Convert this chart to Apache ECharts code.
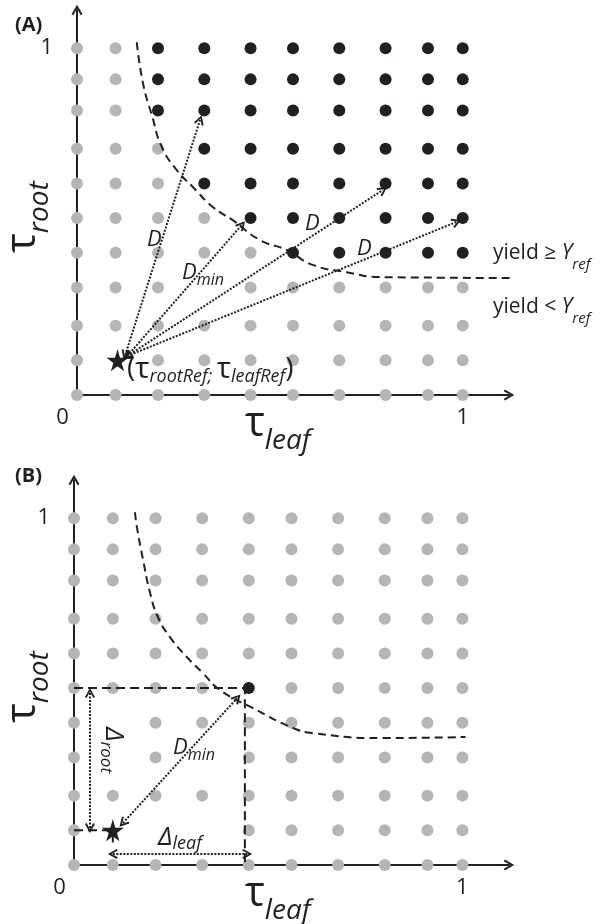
<!DOCTYPE html>
<html>
<head>
<meta charset="utf-8">
<script src="https://cdn.jsdelivr.net/npm/echarts@6/dist/echarts.min.js"></script>
<style>
  html, body { margin: 0; padding: 0; background: #fff; }
  #main { width: 606px; height: 924px; }
</style>
</head>
<body>
<div id="main"></div>
<script>
// positions of the grid of (tau_leaf, tau_root) combinations
var colX = [0, 0.10, 0.21, 0.33, 0.45, 0.56, 0.68, 0.80, 0.91, 1];
var rowY = [0, 0.10, 0.20, 0.31, 0.41, 0.51, 0.61, 0.71, 0.82, 0.91, 1];

// panel A: first black (yield >= Yref) column for every row, null = row all gray
var firstBlackA = [null, null, null, null, 5, 4, 3, 3, 2, 2, 2];
// cells [row, col] without a dot (star or a label sits there)
var hiddenA = [[1, 1], [3, 3]];
var hiddenB = [[1, 1], [1, 2], [1, 3], [3, 1], [3, 3], [4, 1]];
var blackB = [[5, 4]];

var starA = [0.105, 0.10];
var starB = [0.10, 0.10];

// yield = Yref boundary (dashed)
var curveA = [[0.155, 1.017], [0.171, 0.899], [0.194, 0.807], [0.220, 0.715], [0.259, 0.648],
  [0.301, 0.599], [0.352, 0.542], [0.404, 0.504], [0.474, 0.447], [0.544, 0.418],
  [0.611, 0.375], [0.699, 0.354], [0.785, 0.340], [1.199, 0.337]];
var curveB = [[0.157, 1.017], [0.162, 0.974], [0.178, 0.879], [0.196, 0.784], [0.216, 0.715],
  [0.247, 0.657], [0.291, 0.599], [0.332, 0.553], [0.375, 0.505], [0.461, 0.452],
  [0.564, 0.395], [0.616, 0.380], [0.789, 0.366], [1.008, 0.369]];

// dotted double arrows: [from, to]
var arrowsA = [
  [[0.125, 0.115], [0.319, 0.793]],
  [[0.13, 0.112], [0.427, 0.490]],
  [[0.13, 0.112], [0.793, 0.591]],
  [[0.13, 0.112], [0.984, 0.499]]
];
var arrowsB = [
  [[0.126, 0.121], [0.42, 0.481]],   // D_min
  [[0.041, 0.496], [0.041, 0.107]],  // delta root
  [[0.10, 0.032], [0.446, 0.032]]    // delta leaf
];
// dashed guides in panel B
var guideB = [[0, 0.51], [0.44, 0.51], [0.44, 0]];
var starGuideB = [[0, 0.10], [0.10, 0.10], [0.10, 0.06]];

var FONT = "'Open Sans', 'DejaVu Sans', sans-serif";
var INK = '#231f20';
var GRAY = '#b4b5b8';
var ARROW = 'path://M0,8.5 L5,0 L10,8.5 L8.3,9.5 L5,3.4 L1.7,9.5 Z';
var STAR = 'path://M50,0 L61,35 L98,35 L68,57 L79,91 L50,70 L21,91 L32,57 L2,35 L39,35 Z';

function isHidden(list, r, c) {
    for (var i = 0; i < list.length; i++) {
        if (list[i][0] === r && list[i][1] === c) return true;
    }
    return false;
}

function dotsA(black) {
    var out = [];
    for (var r = 0; r < rowY.length; r++) {
        for (var c = 0; c < colX.length; c++) {
            if (isHidden(hiddenA, r, c)) continue;
            var isBlack = firstBlackA[r] !== null && c >= firstBlackA[r];
            if (isBlack === black) out.push([colX[c], rowY[r]]);
        }
    }
    return out;
}

function dotsB(black) {
    var out = [];
    for (var r = 0; r < rowY.length; r++) {
        for (var c = 0; c < colX.length; c++) {
            if (isHidden(hiddenB, r, c)) continue;
            if (isHidden(blackB, r, c) === black) out.push([colX[c], rowY[r]]);
        }
    }
    return out;
}

function xAxis(gi) {
    return {
        gridIndex: gi, type: 'value', min: 0, max: 1.12,
        splitLine: { show: false }, axisTick: { show: false },
        axisLine: { onZero: false, lineStyle: { color: INK, width: 2 }, symbol: ['none', ARROW], symbolSize: [11, 11] },
        axisLabel: {
            customValues: [0, 1], margin: 12, color: INK, fontSize: 22, fontFamily: FONT,
            formatter: function (v) { return v === 0 ? '{z|0}' : '1'; },
            rich: { z: { padding: [0, 29, 0, 0], fontSize: 22, fontFamily: FONT, color: INK } }
        }
    };
}

function yAxis(gi) {
    return {
        gridIndex: gi, type: 'value', min: 0, max: 1.11,
        splitLine: { show: false }, axisTick: { show: false },
        axisLine: { onZero: false, lineStyle: { color: INK, width: 2 }, symbol: ['none', ARROW], symbolSize: [11, 11] },
        axisLabel: { customValues: [1], margin: 24, color: INK, fontSize: 22, fontFamily: FONT }
    };
}

function scatter(gi, data, color, size) {
    return { type: 'scatter', xAxisIndex: gi, yAxisIndex: gi, data: data, symbolSize: size,
        itemStyle: { color: color, opacity: 1 }, clip: false, silent: true, z: 2 };
}

function star(gi, pt) {
    return { type: 'scatter', xAxisIndex: gi, yAxisIndex: gi, data: [pt], symbol: STAR, symbolSize: 22,
        itemStyle: { color: INK, opacity: 1 }, clip: false, z: 5 };
}

function dashed(gi, data, dash, smooth) {
    return { type: 'line', xAxisIndex: gi, yAxisIndex: gi, data: data, smooth: smooth, symbol: 'none',
        lineStyle: { color: INK, width: 2, type: dash }, clip: false, z: 4 };
}

function arrows(gi, list) {
    return {
        type: 'lines', coordinateSystem: 'cartesian2d', xAxisIndex: gi, yAxisIndex: gi,
        data: list.map(function (p) { return { coords: p }; }),
        symbol: [ARROW, ARROW], symbolSize: 10,
        lineStyle: { color: INK, width: 2, type: [2, 1.5], opacity: 1 }, z: 4
    };
}

function txt(x, y, text, rich, extra) {
    var el = {
        type: 'text', x: x, y: y, z: 100,
        style: { text: text, rich: rich, fill: INK, fontFamily: FONT, fontSize: 20,
            align: 'left', verticalAlign: 'middle' }
    };
    for (var k in extra) el[k] = extra[k];
    return el;
}

function st(size, italic, padTop, weight) {
    return { fontSize: size, fontFamily: FONT, fontStyle: italic ? 'italic' : 'normal',
        fontWeight: weight || 'normal', fill: INK, padding: [padTop || 0, 0, 0, 0] };
}

var tauRich = { m: st(42, false), s: st(28, true, 35) };
var dRich = { m: st(22, true) };
var dminRich = { m: st(22, true), s: st(16, true, 15) };
var yieldRich = { a: st(21, false), y: st(21, true), s: st(15, true, 23) };
var refRich = { p: st(28, false), t: st(30, false), s: st(18, true, 16) };
var deltaRich = { m: st(26, true), s: st(18, true, 13) };
var deltaRootRich = { m: st(26, true), s: st(17, true, 15) };
var panelRich = { b: st(20, false, 0, 'bold') };

var graphics = [
    txt(15, 25.5, '{b|(A)}', panelRich),
    txt(147, 240, '{m|D}', dRich),
    txt(182, 272.5, '{m|D}{s|min}', dminRich),
    txt(305, 223.5, '{m|D}', dRich),
    txt(357, 248.5, '{m|D}', dRich),
    txt(493, 253, '{a|yield ≥ }{y|Y}{s|ref}', yieldRich),
    txt(493, 307.5, '{a|yield < }{y|Y}{s|ref}', yieldRich),
    txt(127, 369, '{p|(}{t|τ}{s|rootRef; }{t|τ}{s|leafRef}{p|)}', refRich),
    txt(245, 424, '{m|τ}{s|leaf}', tauRich),
    txt(23, 253, '{m|τ}{s|root}', tauRich, { rotation: Math.PI / 2 }),

    txt(15, 476, '{b|(B)}', panelRich),
    txt(113, 727, '{m|Δ}{s|root}', deltaRootRich, { rotation: -Math.PI / 2 }),
    txt(173, 747.5, '{m|D}{s|min}', dminRich),
    txt(158, 837.5, '{m|Δ}{s|leaf}', deltaRich),
    txt(245, 894, '{m|τ}{s|leaf}', tauRich),
    txt(23, 723, '{m|τ}{s|root}', tauRich, { rotation: Math.PI / 2 })
];

var chart = echarts.init(document.getElementById('main'));
var option = {
    backgroundColor: '#fff',
    animation: false,
    grid: [
        { left: 77, top: 10, width: 432, height: 385, outerBoundsMode: 'none' },
        { left: 74, top: 480, width: 435, height: 385, outerBoundsMode: 'none' }
    ],
    xAxis: [xAxis(0), xAxis(1)],
    yAxis: [yAxis(0), yAxis(1)],
    series: [
        scatter(0, dotsA(false), GRAY, 12),
        scatter(0, dotsA(true), INK, 12),
        dashed(0, curveA, [8, 5], true),
        arrows(0, arrowsA),
        star(0, starA),

        scatter(1, dotsB(false), GRAY, 12),
        scatter(1, dotsB(true), INK, 12),
        dashed(1, curveB, [8, 5], true),
        dashed(1, guideB, [9, 5], false),
        dashed(1, starGuideB, [9, 5], false),
        arrows(1, arrowsB),
        star(1, starB)
    ],
    graphic: graphics
};
chart.setOption(option);
</script>
</body>
</html>
